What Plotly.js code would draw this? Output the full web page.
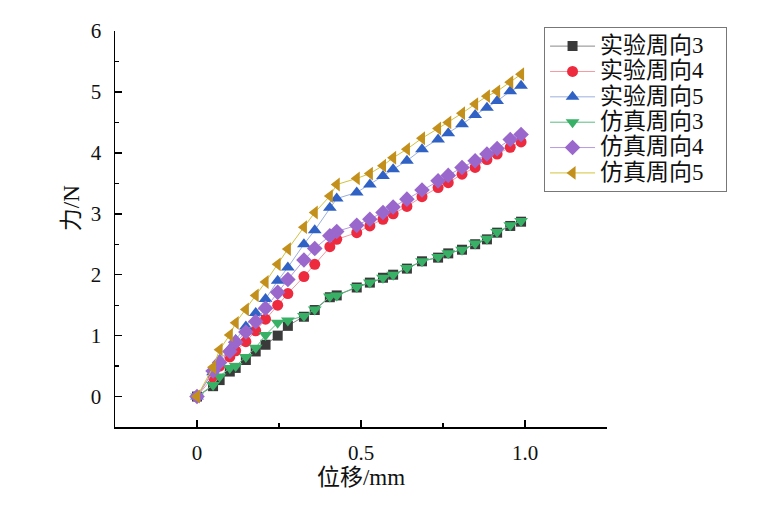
<!DOCTYPE html>
<html>
<head>
<meta charset="utf-8">
<script src="https://cdn.plot.ly/plotly-3.0.1.min.js"></script>
<style>html,body{margin:0;padding:0;background:#fff;}#chart{width:775px;height:515px;}</style>
</head>
<body>
<div id="chart"></div>
<script>
// displacement (mm), shared by all series
const xDisp = [0, 0.049, 0.069, 0.100, 0.118, 0.149, 0.179, 0.209, 0.246, 0.277, 0.326, 0.359, 0.405, 0.426, 0.487, 0.527, 0.567, 0.598, 0.640, 0.686, 0.735, 0.766, 0.808, 0.848, 0.884, 0.915, 0.955, 0.988];

const exp3 = [0, 0.17, 0.27, 0.41, 0.47, 0.60, 0.74, 0.85, 1.00, 1.16, 1.31, 1.42, 1.63, 1.66, 1.79, 1.87, 1.95, 2.00, 2.10, 2.22, 2.28, 2.35, 2.41, 2.50, 2.58, 2.69, 2.80, 2.87];
const exp4 = [0, 0.32, 0.50, 0.65, 0.75, 0.90, 1.08, 1.27, 1.50, 1.69, 1.97, 2.17, 2.46, 2.58, 2.69, 2.80, 2.91, 3.00, 3.12, 3.28, 3.43, 3.51, 3.65, 3.76, 3.89, 3.98, 4.09, 4.18];
const exp5 = [0, 0.40, 0.60, 0.78, 0.93, 1.15, 1.37, 1.60, 1.90, 2.12, 2.50, 2.73, 3.10, 3.25, 3.35, 3.48, 3.62, 3.73, 3.87, 4.06, 4.22, 4.32, 4.47, 4.62, 4.74, 4.85, 5.01, 5.10];
const sim3 = [0, 0.19, 0.33, 0.47, 0.50, 0.65, 0.80, 1.01, 1.21, 1.25, 1.32, 1.43, 1.64, 1.66, 1.80, 1.87, 1.95, 2.00, 2.11, 2.22, 2.29, 2.35, 2.41, 2.51, 2.59, 2.70, 2.81, 2.88];
const sim4 = [0, 0.42, 0.56, 0.74, 0.89, 1.06, 1.23, 1.45, 1.71, 1.92, 2.24, 2.43, 2.64, 2.71, 2.81, 2.91, 3.02, 3.11, 3.24, 3.39, 3.54, 3.63, 3.76, 3.87, 3.98, 4.07, 4.22, 4.30];
const sim5 = [0, 0.48, 0.77, 1.01, 1.21, 1.43, 1.66, 1.88, 2.17, 2.42, 2.78, 3.02, 3.29, 3.48, 3.58, 3.66, 3.79, 3.92, 4.06, 4.24, 4.40, 4.50, 4.65, 4.80, 4.93, 5.01, 5.16, 5.29];

const seriesNames = ['实验周向3', '实验周向4', '实验周向5', '仿真周向3', '仿真周向4', '仿真周向5'];
const seriesData = [exp3, exp4, exp5, sim3, sim4, sim5];
const markerColors = ['#3a3a3a', '#ee2a3e', '#2f62c4', '#38b066', '#9a68cc', '#c4901c'];
const lineColors = ['#8a8a8a', '#f29aa2', '#9cb0dc', '#5cba80', '#b79ae0', '#d2c23c'];
const symbols = ['square', 'circle', 'triangle-up', 'triangle-down', 'diamond', 'triangle-left'];
const sizes = [10, 11, 12, 12, 12, 12];

const xTickVals = [0, 0.5, 1.0];
const xTickText = ['0', '0.5', '1.0'];
const yTickVals = [0, 1, 2, 3, 4, 5, 6];
const xTitle = '位移/mm';
const yTitle = '力/N';

const serif = '"Liberation Serif", "Noto Sans CJK SC", serif';

const traces = seriesData.map((ys, i) => ({
  x: xDisp,
  y: ys,
  name: '<span style="font-size:23px">' + seriesNames[i] + '\u00a0\u00a0\u00a0</span>',
  type: 'scatter',
  mode: 'lines+markers',
  line: {color: lineColors[i], width: 1},
  marker: {symbol: symbols[i], size: sizes[i], color: markerColors[i], line: {width: 0}}
}));

const layout = {
  width: 775,
  height: 515,
  paper_bgcolor: '#ffffff',
  plot_bgcolor: '#ffffff',
  margin: {l: 115, r: 168, t: 31, b: 88, autoexpand: false},
  font: {family: serif, size: 20, color: '#111'},
  showlegend: true,
  legend: {
    x: 1.244, y: 1.009, xanchor: 'right', yanchor: 'top',
    bordercolor: '#777', borderwidth: 1, bgcolor: '#fff',
    font: {family: serif, size: 17.2, color: '#111'},
    itemwidth: 45, tracegroupgap: 0
  },
  annotations: [{
    text: yTitle, textangle: -90, showarrow: false,
    xref: 'paper', yref: 'paper', x: -0.089, y: 0.553,
    xanchor: 'center', yanchor: 'middle',
    font: {family: serif, size: 23, color: '#111'}
  }],
  xaxis: {
    range: [-0.25, 1.25],
    showgrid: false, zeroline: false,
    showline: true, linecolor: '#000', linewidth: 1.5,
    ticks: 'inside', ticklen: 7, tickwidth: 1.5, tickcolor: '#000',
    tickvals: xTickVals, ticktext: xTickText,
    minor: {dtick: 0.25, tick0: 0, ticks: 'inside', ticklen: 4, tickwidth: 1.2, tickcolor: '#000', showgrid: false},
    tickfont: {family: serif, size: 21, color: '#111'},
    ticklabelstandoff: 6,
    title: {text: xTitle, font: {family: serif, size: 23, color: '#111'}, standoff: 2}
  },
  yaxis: {
    range: [-0.5, 6],
    showgrid: false, zeroline: false,
    showline: true, linecolor: '#000', linewidth: 1.5,
    ticks: 'inside', ticklen: 7, tickwidth: 1.5, tickcolor: '#000',
    tickvals: yTickVals,
    minor: {dtick: 0.5, tick0: 0, ticks: 'inside', ticklen: 4, tickwidth: 1.2, tickcolor: '#000', showgrid: false},
    tickfont: {family: serif, size: 21, color: '#111'},
    ticklabelstandoff: 8
  }
};

Plotly.newPlot('chart', traces, layout, {displayModeBar: false, staticPlot: true});
</script>
</body>
</html>
